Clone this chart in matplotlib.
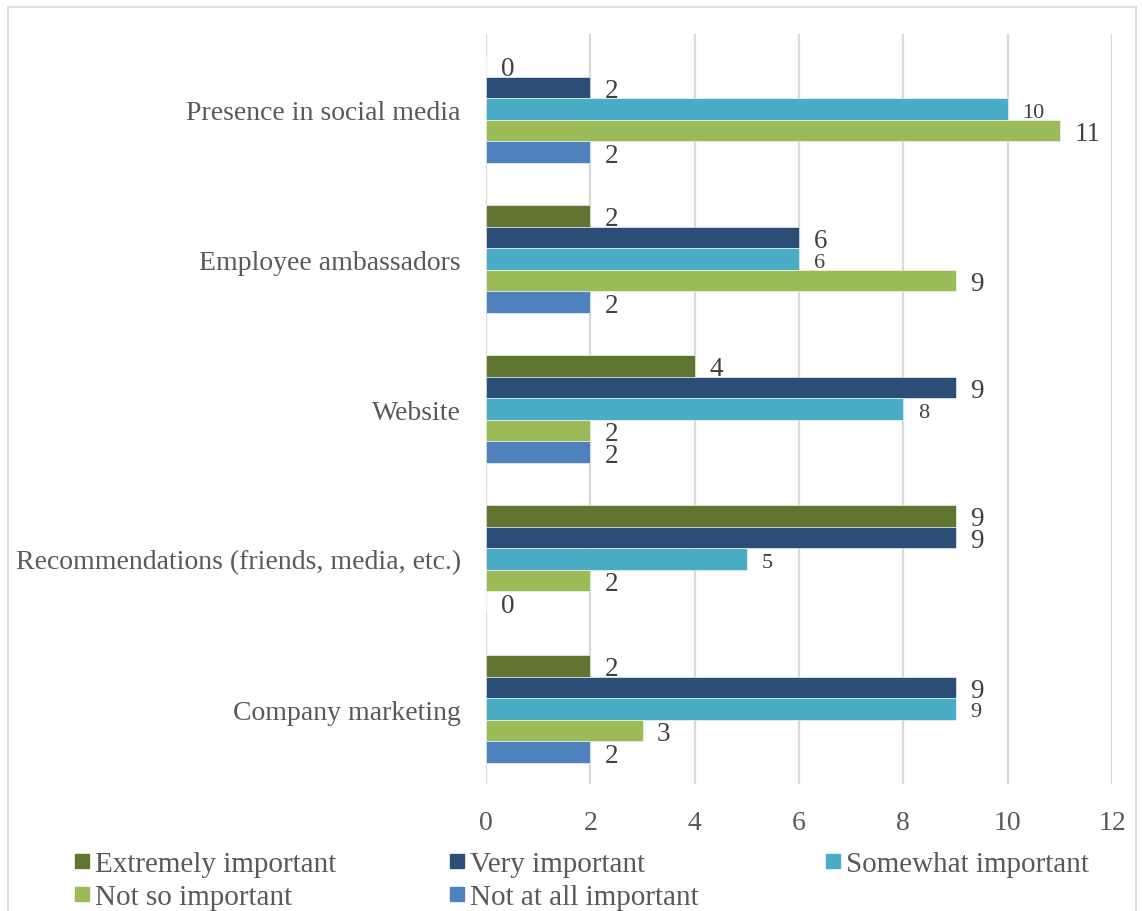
import matplotlib.pyplot as plt
from matplotlib.patches import Rectangle
from matplotlib.lines import Line2D
import numpy as np

categories = ['Presence in social media', 'Employee ambassadors', 'Website',
              'Recommendations (friends, media, etc.)', 'Company marketing']
series_names = ['Extremely important', 'Very important', 'Somewhat important',
                'Not so important', 'Not at all important']
extremely = [0, 2, 4, 9, 2]
very = [2, 6, 9, 9, 9]
somewhat = [10, 6, 8, 5, 9]
not_so = [11, 9, 2, 2, 3]
not_at_all = [2, 2, 2, 0, 2]

colors = ['#5F7530', '#2C4D75', '#4BACC6', '#9BBB59', '#4F81BD']
label_sizes = [19.5, 19.5, 16, 19.5, 19.5]

plt.rcParams['font.family'] = ['Liberation Serif', 'DejaVu Serif']
textColor = '#595959'

fig = plt.figure(figsize=(11.42, 9.12), dpi=100)
ax = fig.add_axes([486 / 1142, 1 - 785 / 912, 626 / 1142, 750 / 912])

allSeries = [extremely, very, somewhat, not_so, not_at_all]
barHeight = 0.144
groupPos = np.arange(len(categories))

for i, values in enumerate(allSeries):
    offset = (i - 2) * barHeight
    y = groupPos + offset
    ax.barh(y, values, height=barHeight, color=colors[i], edgecolor='white',
            linewidth=0.4, zorder=3)
    for yy, v in zip(y, values):
        ax.text(v + 0.28, yy + 0.02, str(v), va='center', ha='left',
                fontsize=label_sizes[i], color='#404040', zorder=4)

ax.set_xlim(0, 12)
ax.set_ylim(len(categories) - 0.5, -0.5)
ax.set_xticks(range(0, 13, 2))
ax.set_yticks(groupPos)
ax.set_yticklabels(categories)
ax.tick_params(axis='y', length=0, pad=18, labelsize=20, labelcolor=textColor)
ax.tick_params(axis='x', length=0, pad=19, labelsize=20, labelcolor=textColor)
ax.grid(axis='x', color='#D9D9D9', linewidth=1.6, zorder=0)
for side in ax.spines.values():
    side.set_visible(False)

# frame around the whole chart
fig.patches.append(Rectangle((8 / 1142, -0.1), 1128 / 1142, 1.1 - 8 / 912,
                             transform=fig.transFigure, fill=False,
                             edgecolor='#D9D9D9', linewidth=1.2))

# legend: three equal-width columns, filled row by row
columns = [[0, 3], [1, 4], [2]]
colX = [72, 447, 823]
for idx, x0 in zip(columns, colX):
    handles = [Line2D([0], [0], marker='s', linestyle='none', markersize=10,
                      markerfacecolor=colors[k], markeredgecolor=colors[k]) for k in idx]
    fig.legend(handles, [series_names[k] for k in idx], loc='upper left',
               bbox_to_anchor=(x0 / 1142, 1 - 852 / 912), frameon=False,
               fontsize=21, labelcolor=textColor, handletextpad=0.1,
               handlelength=0.7, labelspacing=0.22, borderpad=0,
               borderaxespad=0)

fig.savefig('out.png', dpi=100)
